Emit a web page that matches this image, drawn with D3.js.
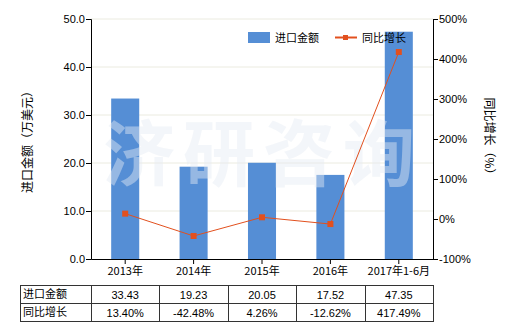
<!DOCTYPE html>
<html>
<head>
<meta charset="utf-8">
<script src="https://cdn.jsdelivr.net/npm/d3@7"></script>
<style>
  body { margin: 0; background: #fff; }
  text { font-family: "Noto Sans CJK SC", "DejaVu Sans", sans-serif; }
</style>
</head>
<body>
<svg id="chart"></svg>
<script>
// data
const categories = ["2013年", "2014年", "2015年", "2016年", "2017年1-6月"];
const importValues = [33.43, 19.23, 20.05, 17.52, 47.35];
const growthValues = [13.40, -42.48, 4.26, -12.62, 417.49];
const leftTicks = [0, 10, 20, 30, 40, 50];
const rightTicks = [-100, 0, 100, 200, 300, 400, 500];

const width = 520, height = 330;
const plotLeft = 91, plotRight = 433, plotTop = 19, plotBottom = 259;
const barColor = "#558ed5";
const lineColor = "#e2501e";

const svg = d3.select("#chart")
    .attr("width", width)
    .attr("height", height);

// scales
const x = d3.scaleBand()
    .domain(categories)
    .range([plotLeft, plotRight])
    .paddingInner(0.59)
    .paddingOuter(0.295);

const xc = d3.scaleBand().domain(categories).range([plotLeft, plotRight]);

const y = d3.scaleLinear().domain([0, 50]).range([plotBottom, plotTop]);
const y2 = d3.scaleLinear().domain([-100, 500]).range([plotBottom, plotTop]);

// grid
svg.selectAll(".grid")
    .data(leftTicks.slice(1))
    .enter()
    .append("line")
    .attr("x1", plotLeft)
    .attr("x2", plotRight)
    .attr("y1", d => y(d))
    .attr("y2", d => y(d))
    .attr("stroke", "#ebebe0")
    .attr("stroke-width", 1);

// bars
svg.selectAll(".bar")
    .data(importValues)
    .enter()
    .append("rect")
    .attr("class", "bar")
    .attr("x", (d, i) => x(categories[i]))
    .attr("width", x.bandwidth())
    .attr("y", d => y(d))
    .attr("height", d => plotBottom - y(d))
    .attr("fill", barColor);

// watermark
svg.append("text")
    .attr("x", 263)
    .attr("y", 180)
    .attr("text-anchor", "middle")
    .attr("font-size", 72)
    .attr("font-weight", "bold")
    .attr("letter-spacing", 8)
    .attr("fill", "#e6ecf4")
    .attr("opacity", 0.45)
    .text("济研咨询");

// line
const cx = i => xc(categories[i]) + xc.bandwidth() / 2;
const line = d3.line()
    .x((d, i) => cx(i))
    .y(d => y2(d));

svg.append("path")
    .datum(growthValues)
    .attr("d", line)
    .attr("fill", "none")
    .attr("stroke", lineColor)
    .attr("stroke-width", 1);

svg.selectAll(".pt")
    .data(growthValues)
    .enter()
    .append("rect")
    .attr("x", (d, i) => cx(i) - 3)
    .attr("y", d => y2(d) - 3)
    .attr("width", 6)
    .attr("height", 6)
    .attr("fill", lineColor);

// axes
const yAxis = d3.axisLeft(y)
    .tickValues(leftTicks)
    .tickFormat(d3.format(".1f"))
    .tickSize(5);
const y2Axis = d3.axisRight(y2)
    .tickValues(rightTicks)
    .tickFormat(d => d + "%")
    .tickSize(5);
const xAxis = d3.axisBottom(xc)
    .tickSize(5)
    .tickSizeOuter(0);

const gl = svg.append("g")
    .attr("transform", `translate(${plotLeft},0)`)
    .call(yAxis);
const gr = svg.append("g")
    .attr("transform", `translate(${plotRight},0)`)
    .call(y2Axis);
const gb = svg.append("g")
    .attr("transform", `translate(0,${plotBottom})`)
    .call(xAxis);

[gl, gr, gb].forEach(g => {
    g.selectAll("path, line").attr("stroke", "#000");
    g.selectAll("text").attr("font-size", 11).attr("fill", "#000")
        .style("font-family", "'Liberation Sans', 'Noto Sans CJK SC', sans-serif");
});
gl.selectAll("text").attr("x", -6);
gr.selectAll("text").attr("x", 6);
gb.selectAll("text").attr("y", 8)
    .style("font-family", "'Noto Sans CJK SC', sans-serif");

// axis titles
svg.append("text")
    .attr("transform", `translate(32,139) rotate(-90)`)
    .attr("text-anchor", "middle")
    .attr("font-size", 12)
    .text("进口金额（万美元）");

svg.append("text")
    .attr("transform", `translate(485,139) rotate(90)`)
    .attr("text-anchor", "middle")
    .attr("font-size", 12)
    .text("同比增长（%）");

// legend
svg.append("rect")
    .attr("x", 248)
    .attr("y", 32)
    .attr("width", 22)
    .attr("height", 11)
    .attr("fill", barColor);
svg.append("text")
    .attr("x", 275)
    .attr("y", 42)
    .attr("font-size", 11)
    .text("进口金额");
svg.append("line")
    .attr("x1", 335).attr("x2", 357)
    .attr("y1", 37.5).attr("y2", 37.5)
    .attr("stroke", lineColor)
    .attr("stroke-width", 2);
svg.append("rect")
    .attr("x", 343).attr("y", 35)
    .attr("width", 5).attr("height", 5)
    .attr("fill", lineColor);
svg.append("text")
    .attr("x", 362)
    .attr("y", 42)
    .attr("font-size", 11)
    .text("同比增长");

// data table
const tableTop = 285, rowH = 18, tableLeft = 20;
const rows = [
    { label: "进口金额", values: importValues.map(d => d.toFixed(2)) },
    { label: "同比增长", values: growthValues.map(d => d.toFixed(2) + "%") }
];
const tbl = svg.append("g");
tbl.append("rect")
    .attr("x", tableLeft + 0.5)
    .attr("y", tableTop + 0.5)
    .attr("width", plotRight - tableLeft)
    .attr("height", rowH * 2)
    .attr("fill", "none")
    .attr("stroke", "#333");
tbl.append("line")
    .attr("x1", tableLeft).attr("x2", plotRight + 0.5)
    .attr("y1", tableTop + rowH + 0.5).attr("y2", tableTop + rowH + 0.5)
    .attr("stroke", "#333");
tbl.selectAll(".vline")
    .data(categories)
    .enter()
    .append("line")
    .attr("x1", d => Math.round(xc(d)) + 0.5)
    .attr("x2", d => Math.round(xc(d)) + 0.5)
    .attr("y1", tableTop)
    .attr("y2", tableTop + rowH * 2)
    .attr("stroke", "#333");

rows.forEach((r, ri) => {
    const ty = tableTop + rowH * ri + 13;
    tbl.append("text")
        .attr("x", tableLeft + 3)
        .attr("y", ty)
        .attr("font-size", 11)
        .text(r.label);
    tbl.selectAll(".cell" + ri)
        .data(r.values)
        .enter()
        .append("text")
        .attr("x", (d, i) => cx(i))
        .attr("y", ty + 1)
        .attr("text-anchor", "middle")
        .attr("font-size", 11)
        .style("font-family", "'Liberation Sans', sans-serif")
        .text(d => d);
});
</script>
</body>
</html>
